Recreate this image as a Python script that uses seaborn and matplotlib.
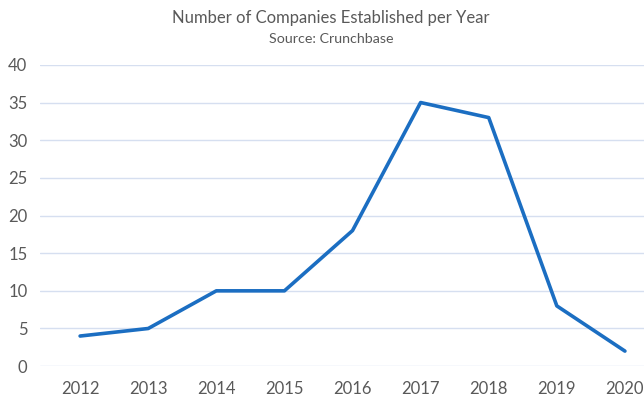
import pandas as pd
import seaborn as sns
import matplotlib
import matplotlib.pyplot as plt

matplotlib.use('Agg')

years = ['2012', '2013', '2014', '2015', '2016', '2017', '2018', '2019', '2020']
companies = [4, 5, 10, 10, 18, 35, 33, 8, 2]
yticks = [0, 5, 10, 15, 20, 25, 30, 35, 40]

df = pd.DataFrame({'year': years, 'companies': companies})

sns.set_style('white')
plt.rcParams['font.family'] = ['Lato', 'DejaVu Sans']

text_col = '#595959'
fig = plt.figure(figsize=(6.44, 3.98), dpi=100)
ax = fig.add_axes([0.062, 0.080, 0.938, 0.757])

sns.lineplot(x='year', y='companies', data=df, color='#1b6ec2', linewidth=2.6, ax=ax)

ax.set(xlabel='', ylabel='', ylim=[0, 40], xlim=[-0.59, 8.28], yticks=yticks)
ax.grid(axis='y', color='#d6dff0', linewidth=1)
ax.set_axisbelow(True)
sns.despine(left=True, bottom=True, top=True, right=True)
ax.tick_params(axis='both', length=0, colors=text_col, labelsize=12)
ax.tick_params(axis='x', pad=11)
ax.tick_params(axis='y', pad=9)

fig.text(0.514, 0.955, 'Number of Companies Established per Year', ha='center', va='center',
         fontsize=12, color=text_col)
fig.text(0.514, 0.902, 'Source: Crunchbase', ha='center', va='center',
         fontsize=10.3, color=text_col)

fig.savefig('out.png', dpi=100)
